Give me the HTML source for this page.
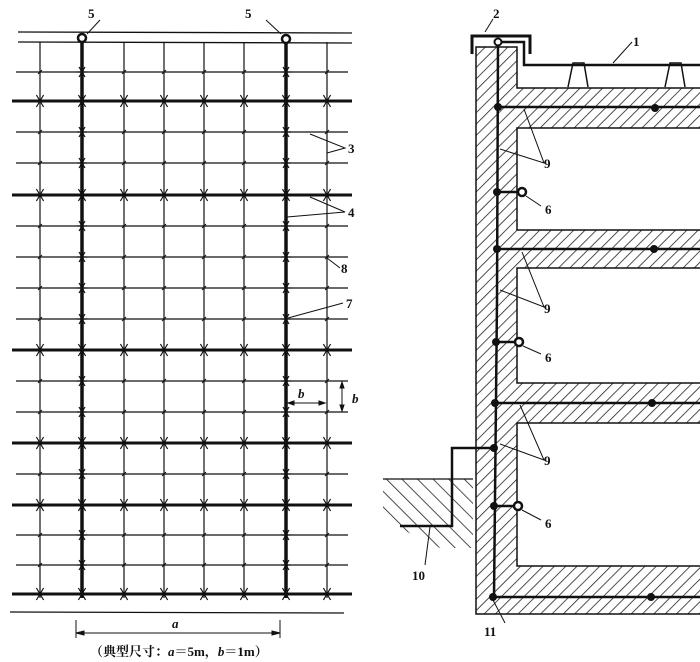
<!DOCTYPE html>
<html><head><meta charset="utf-8"><style>
html,body{margin:0;padding:0;background:#fff}
svg{display:block}
text{font-family:"Liberation Serif","Noto Serif CJK SC",serif;font-weight:bold;font-size:13px;fill:#111}
</style></head><body>
<svg id="s" width="700" height="662" viewBox="0 0 700 662" xmlns="http://www.w3.org/2000/svg">
<defs>
<pattern id="h" width="8" height="8" patternUnits="userSpaceOnUse" patternTransform="rotate(45)">
<line x1="0" y1="0" x2="0" y2="8" stroke="#222" stroke-width="1.6"/>
</pattern>
<pattern id="h2" width="11" height="11" patternUnits="userSpaceOnUse" patternTransform="rotate(-45)">
<line x1="0" y1="0" x2="0" y2="11" stroke="#222" stroke-width="1.6"/>
</pattern>
</defs>
<g id="grid" stroke="#111" fill="none"></g>
<g stroke="#111" fill="none" stroke-width="1">
<line x1="18" y1="32" x2="352" y2="33" stroke-width="1.3"/>
<line x1="18" y1="42" x2="352" y2="43" stroke-width="1.3"/>
<line x1="10" y1="612" x2="344" y2="613" stroke-width="1.2"/>
<circle cx="82" cy="38" r="4" fill="#fff" stroke-width="2.5"/>
<circle cx="286" cy="39" r="4" fill="#fff" stroke-width="2.5"/>
<line x1="87" y1="34" x2="100" y2="20"/>
<line x1="281" y1="34" x2="266" y2="20"/>
<polyline points="310,134 345,148 327,153"/>
<polyline points="310,197 345,212 287,217"/>
<line x1="327" y1="258" x2="340" y2="268"/>
<line x1="288" y1="318" x2="343" y2="303"/>
<line x1="327" y1="381" x2="348" y2="381"/>
<line x1="327" y1="412" x2="348" y2="412"/>
<line x1="342" y1="382" x2="342" y2="411"/>
<path d="M342,382 l-2,6 h4z M342,411 l-2,-6 h4z" fill="#111"/>
<line x1="288" y1="403" x2="325" y2="403"/>
<path d="M288,403 l6,-2 v4z M325,403 l-6,-2 v4z" fill="#111"/>
<line x1="76" y1="620" x2="76" y2="638"/>
<line x1="280" y1="620" x2="280" y2="638"/>
<line x1="76" y1="633" x2="280" y2="633"/>
<path d="M76,633 l8,-2 v4z M280,633 l-8,-2 v4z" fill="#111"/>
</g>
<text x="88" y="18">5</text>
<text x="245" y="18">5</text>
<text x="348" y="153">3</text>
<text x="348" y="217">4</text>
<text x="341" y="273">8</text>
<text x="346" y="308">7</text>
<text x="298" y="398" font-style="italic">b</text>
<text x="352" y="403" font-style="italic">b</text>
<text x="172" y="628" font-style="italic">a</text>
<text x="90" y="656" font-size="12">（典型尺寸：<tspan font-style="italic">a</tspan>＝5m，<tspan font-style="italic">b</tspan>＝1m）</text>

<g>
<path d="M476,47 H517 V88 H700 V128 H517 V230 H700 V268 H517 V383 H700 V423 H517 V566 H700 V614 H476 Z" fill="url(#h)"/>
<path d="M700,88 H517 V47 H476 V614 H700 M700,128 H517 V230 H700 M700,268 H517 V383 H700 M700,423 H517 V566 H700" fill="none" stroke="#111" stroke-width="1.5"/>
<polygon points="383,479 473,479 473,548 440,548 383,520" fill="url(#h2)"/>
<line x1="383" y1="479" x2="473" y2="479" stroke="#111" stroke-width="1.3"/>
</g>
<g stroke="#111" fill="none">
<polyline points="498,42 497,300 494,597" stroke-width="2.5"/>
<line x1="498" y1="107" x2="700" y2="107" stroke-width="2.5"/>
<line x1="497" y1="249" x2="700" y2="249" stroke-width="2.5"/>
<line x1="495" y1="403" x2="700" y2="403" stroke-width="2.5"/>
<line x1="494" y1="597" x2="700" y2="597" stroke-width="2.5"/>
<polyline points="472,54 472,36 530,36 530,54" stroke-width="3"/>
<polyline points="498,42 524,42 524,65 700,65" stroke-width="2.5"/>
<line x1="485" y1="32" x2="493" y2="19"/>
<circle cx="498" cy="42" r="3.5" fill="#fff" stroke-width="2"/>
<path d="M568,87 L573,63 H584 L588,87" stroke-width="1.5"/>
<path d="M665,87 L670,63 H681 L685,87" stroke-width="1.5"/>
<line x1="613" y1="63" x2="632" y2="42"/>
<line x1="497" y1="192" x2="517" y2="192" stroke-width="2.5"/>
<circle cx="522" cy="192" r="4" fill="#fff" stroke-width="2.5"/>
<line x1="526" y1="196" x2="541" y2="206"/>
<line x1="496" y1="342" x2="515" y2="342" stroke-width="2.5"/>
<circle cx="519" cy="342" r="4" fill="#fff" stroke-width="2.5"/>
<line x1="523" y1="346" x2="541" y2="354"/>
<line x1="494" y1="506" x2="514" y2="506" stroke-width="2.5"/>
<circle cx="518" cy="506" r="4" fill="#fff" stroke-width="2.5"/>
<line x1="522" y1="510" x2="541" y2="520"/>
<polyline points="495,448 452,448 452,526 400,526" stroke-width="2.5"/>
<line x1="430" y1="527" x2="425" y2="565"/>
<line x1="493" y1="600" x2="505" y2="623"/>
<polyline points="524,109 544,163 500,149"/>
<polyline points="522,252 544,307 500,290"/>
<polyline points="520,405 544,460 500,444"/>
</g>
<g fill="#111">
<circle cx="498" cy="107" r="4"/><circle cx="655" cy="108" r="4"/>
<circle cx="497" cy="192" r="4"/>
<circle cx="497" cy="249" r="4"/><circle cx="654" cy="249" r="4"/>
<circle cx="496" cy="342" r="4"/>
<circle cx="495" cy="403" r="4"/><circle cx="652" cy="403" r="4"/>
<circle cx="494" cy="448" r="4"/>
<circle cx="494" cy="506" r="4"/>
<circle cx="493" cy="597" r="4"/><circle cx="651" cy="597" r="4"/>
</g>
<text x="493" y="18">2</text>
<text x="633" y="46">1</text>
<text x="544" y="168">9</text>
<text x="545" y="214">6</text>
<text x="544" y="313">9</text>
<text x="545" y="362">6</text>
<text x="544" y="465">9</text>
<text x="545" y="528">6</text>
<text x="412" y="580">10</text>
<text x="484" y="636">11</text>
</svg>
<script>
var g=document.getElementById('grid'),NS='http://www.w3.org/2000/svg';
function L(x1,y1,x2,y2,w){var l=document.createElementNS(NS,'line');l.setAttribute('x1',x1);l.setAttribute('y1',y1);l.setAttribute('x2',x2);l.setAttribute('y2',y2);l.setAttribute('stroke-width',w);g.appendChild(l);}
var xs=[40,82,124,164,204,244,286,327],thickX=[1,6];
var rows=[[72,0],[101,1],[132,0],[163,0],[195,1],[226,0],[257,0],[288,0],[319,0],[350,1],[381,0],[412,0],[443,1],[474,0],[505,1],[535,0],[565,0],[594,1]];
rows.forEach(function(r){L(r[1]?12:16,r[0],r[1]?352:348,r[0],r[1]?3:1.2);});
xs.forEach(function(x,i){var t=thickX.indexOf(i)>=0;L(x,42,x,598,t?3.5:1.2);});
function star(x,y,s){L(x-s,y,x+s,y,1.2);L(x-s*0.6,y-s,x+s*0.6,y+s,1.2);L(x-s*0.6,y+s,x+s*0.6,y-s,1.2);}
rows.forEach(function(r){xs.forEach(function(x,i){var t=thickX.indexOf(i)>=0;if(r[1])star(x,r[0],6);else if(t)star(x,r[0],5);else{L(x-2,r[0]+2,x+2,r[0]-2,1);} });});
</script>
</body></html>
